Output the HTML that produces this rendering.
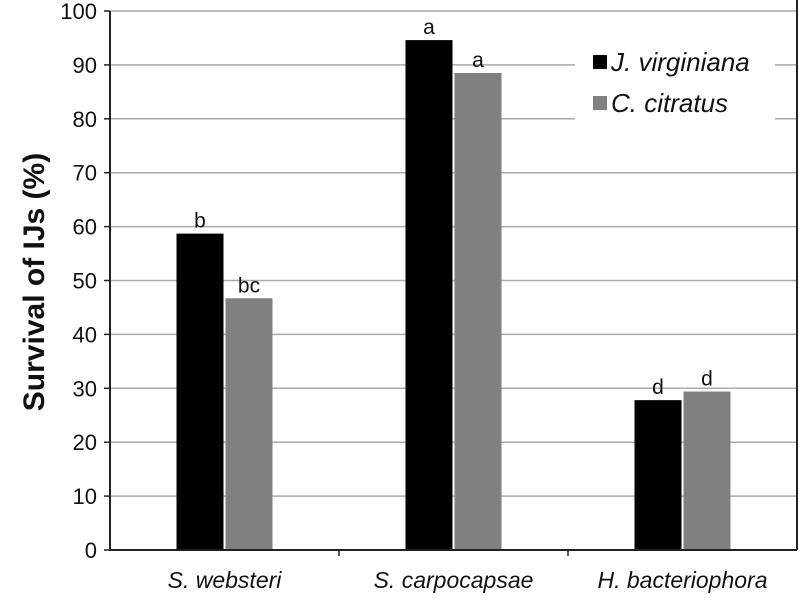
<!DOCTYPE html>
<html><head><style>body{margin:0;background:#fff}svg{font-family:"Liberation Sans",sans-serif}</style></head>
<body>
<svg id="c" width="800" height="600">
<g id="grid"></g><g id="bars"></g><g id="axes"></g>
</svg>
<script>
const categories=["S. websteri","S. carpocapsae","H. bacteriophora"];
const seriesNames=["J. virginiana","C. citratus"];
const jVirginiana=[58.7,94.6,27.8];
const cCitratus=[46.7,88.5,29.4];
const labelsJ=["b","a","d"];
const labelsC=["bc","a","d"];
const yTicks=[0,10,20,30,40,50,60,70,80,90,100];
const NS="http://www.w3.org/2000/svg";
const X0=110,X1=797,Y0=550,Y1=11;
const y=v=>Y0-(v/100)*(Y0-Y1);
const cw=(X1-X0)/3;
const cx=i=>X0+cw*(i+0.5);
function mk(p,t,a){const e=document.createElementNS(NS,t);for(const k in a)e.setAttribute(k,a[k]);p.appendChild(e);return e;}
const grid=document.getElementById('grid'),bars=document.getElementById('bars'),axes=document.getElementById('axes');
yTicks.forEach(v=>{
 if(v>0){const l=mk(grid,'line',{x1:X0,x2:X1,y1:y(v),y2:y(v),stroke:'#aaa','stroke-width':1.5});
 
 }
 const tk=mk(axes,'line',{x1:X0-6,x2:X0,y1:y(v),y2:y(v),stroke:'#222','stroke-width':1.5});
 
 
 const t=mk(axes,'text',{x:X0-13,y:y(v)+8,'text-anchor':'end','font-size':22,fill:'#111'});t.textContent=v;
 
 
});
const bw=47,gap=2;
[jVirginiana,cCitratus].forEach((s,si)=>{
 s.forEach((v,i)=>{
  const x=si==0?cx(i)-gap/2-bw:cx(i)+gap/2;
  const r=mk(bars,'rect',{x:x,y:y(v),width:bw,height:Y0-y(v),fill:si==0?'#000':'#808080'});
  
  
  const t=mk(bars,'text',{x:x+bw/2,y:y(v)-6,'text-anchor':'middle','font-size':21,fill:'#111'});
  t.textContent=(si==0?labelsJ:labelsC)[i];
  
  
 });
});
categories.forEach((c,i)=>{
 const t=mk(axes,'text',{x:cx(i),y:588,'text-anchor':'middle','font-size':23,'font-style':'italic',fill:'#111'});t.textContent=c;
 
 
 if(i>0){const tk=mk(axes,'line',{x1:X0+cw*i,x2:X0+cw*i,y1:Y0,y2:Y0+6,stroke:'#222','stroke-width':1.5});
 
 }
});
const ax=mk(axes,'path',{d:`M${X0} ${Y1}V${Y0}H${X1}`,fill:'none',stroke:'#222','stroke-width':2});


const rb=mk(axes,'line',{x1:X1,x2:X1,y1:0,y2:Y0,stroke:'#222','stroke-width':2});


const yt=mk(axes,'text',{x:0,y:0,transform:'translate(44,282) rotate(-90)','text-anchor':'middle','font-size':30,'font-weight':'bold',fill:'#111'});
yt.textContent='Survival of IJs (%)';


const lg=mk(axes,'g',{});


mk(lg,'rect',{x:575,y:40,width:200,height:92,fill:'#fff'});
seriesNames.forEach((n,i)=>{
 const sw=mk(lg,'rect',{x:593,y:55+i*41,width:14,height:14,fill:i==0?'#000':'#808080'});
 
 
 const t=mk(lg,'text',{x:611,y:71+i*41,'font-size':26,'font-style':'italic',fill:'#111'});t.textContent=n;
 
 
});
</script>
</body></html>
